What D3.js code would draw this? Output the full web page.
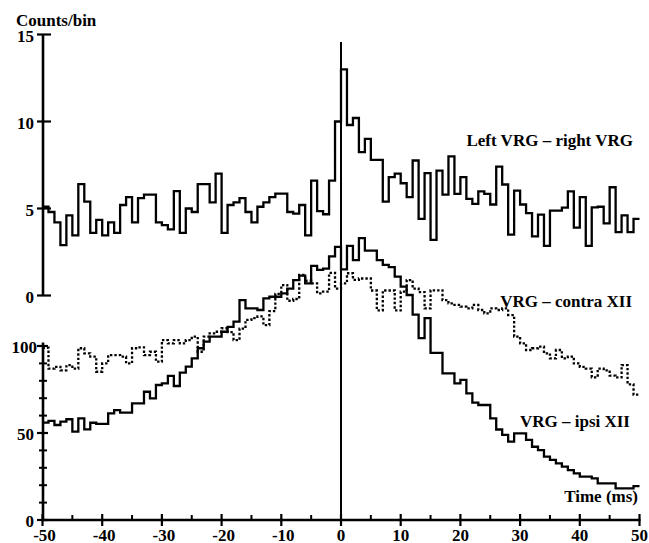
<!DOCTYPE html>
<html><head><meta charset="utf-8">
<script src="https://cdn.jsdelivr.net/npm/d3@7/dist/d3.min.js"></script>
<style>
html,body{margin:0;padding:0;background:#fff;}
text{font-family:"Liberation Serif","Times New Roman",serif;font-weight:bold;fill:#000;}
</style></head>
<body><svg id="c" width="649" height="543"></svg>
<script>
// Bin start times (ms), 1-ms bins from -50 to 49
const binStarts = d3.range(-50, 50);
// Upper panel: Left VRG – right VRG (counts/bin)
const leftRightVRG = [
 5.1, 4.8, 4.2, 2.9, 4.6, 3.45, 6.4, 5.4, 3.6, 4.35,
 3.45, 4.2, 3.6, 5.2, 5.65, 4.2, 5.6, 5.8, 5.8, 4.2,
 4.05, 3.8, 6.0, 3.6, 5.0, 4.8, 6.4, 6.4, 5.35, 7.0,
 3.6, 5.2, 5.35, 5.6, 4.8, 4.2, 5.1, 5.35, 5.65, 5.85,
 5.85, 4.8, 4.7, 5.2, 3.45, 6.6, 4.85, 4.67, 6.6, 10.0,
 13.0, 9.8, 10.2, 8.24, 9.0, 7.8, 7.8, 5.4, 6.8, 7.0,
 6.45, 5.65, 7.76, 4.4, 7.03, 3.2, 7.18, 5.8, 8.0, 5.84,
 6.8, 5.55, 5.27, 5.98, 5.84, 5.23, 7.41, 6.38, 3.5, 6.03,
 5.23, 4.73, 3.4, 4.65, 2.85, 4.88, 4.88, 5.05, 5.98, 3.9,
 5.65, 2.85, 5.07, 5.1, 4.15, 6.22, 3.64, 4.6, 3.64, 4.4
];
// Lower panel: VRG – contra XII (dotted)
const contraXII = [
 99, 87, 88, 86, 89, 87, 98.7, 95.8, 93.9, 85.2,
 90, 94.8, 94.8, 93.9, 90, 98.7, 99.2, 94.8, 96.7, 91,
 103.4, 101.5, 103.4, 101.5, 103.4, 105.4, 96.7, 105.4, 107.3, 108.2,
 110.2, 108, 103.4, 110, 115, 116, 117, 112, 120, 130,
 135, 126, 127, 140.8, 137.5, 136, 130.3, 131.2, 142, 133,
 136, 141.8, 138, 138.8, 138.8, 131.9, 120.5, 131.9, 131.9, 120.5,
 131.2, 137.9, 133, 131, 121.6, 132, 132, 126.4, 124.5, 123.6,
 122.6, 121.6, 123.6, 120.7, 118.8, 121.6, 120.7, 121.6, 117.8, 105.4,
 101.5, 97.7, 98.7, 99.6, 95.8, 92.9, 97.7, 92.9, 93.9, 90,
 88, 87, 82, 87, 86, 83, 82, 89, 78, 72
];
// Lower panel: VRG – ipsi XII (solid)
const ipsiXII = [
 56, 57, 54.6, 56.5, 57.9, 50.8, 58.4, 52.1, 55.9, 55.2,
 55.2, 61.3, 63.2, 61.7, 61.7, 67, 67, 73.7, 69.9, 77.6,
 78.5, 82.8, 77, 84.7, 88.1, 92.9, 98.7, 102.5, 105.4, 105.4,
 108.2, 111, 114, 126.4, 121.6, 121.6, 120.7, 127.4, 128.3, 128.3,
 130.3, 133, 137.9, 140.5, 136, 146, 143.7, 144.5, 151.5, 157,
 144, 157.5, 149.4, 162, 154.8, 154.8, 149.4, 146.6, 145.3, 139.9,
 134.1, 129.3, 118, 104.5, 116, 96, 96, 84.3, 84.3, 78.5,
 80.5, 72.8, 67.4, 66.1, 66.1, 58.4, 52, 48.9, 45, 49.8,
 49.8, 46, 42.1, 40.2, 36.4, 34.5, 32.6, 30.7, 28.7, 26.8,
 24.9, 24.9, 23.9, 21.1, 21.1, 21.1, 18.2, 18.2, 18.2, 19.5
];
const xTicks = d3.range(-50, 51, 10);
const xMinorTicks = d3.range(-45, 50, 10);
const upperTicks = [0, 5, 10, 15];
const lowerMajorTicks = [0, 50, 100];
const lowerMinorTicks = [10, 20, 30, 40, 60, 70, 80, 90];

const svg = d3.select("#c");
const x = d3.scaleLinear().domain([-50, 50]).range([42.5, 639.5]);
const yU = d3.scaleLinear().domain([0, 15]).range([295.5, 34.5]);
const yL = d3.scaleLinear().domain([0, 100]).range([520, 346]);

function stepPts(vals){
  const pts = binStarts.map((t,i)=>[t, vals[i]]);
  pts.push([binStarts[binStarts.length-1]+1, vals[vals.length-1]]);
  return pts;
}
const lineU = d3.line().x(d=>x(d[0])).y(d=>yU(d[1])).curve(d3.curveStepAfter);
const lineL = d3.line().x(d=>x(d[0])).y(d=>yL(d[1])).curve(d3.curveStepAfter);

// series
svg.append("path").attr("d", lineL(stepPts(contraXII)))
  .attr("fill","none").attr("stroke","#000").attr("stroke-width",2.3)
  .attr("stroke-dasharray","2.4,2");
svg.append("path").attr("d", lineL(stepPts(ipsiXII)))
  .attr("fill","none").attr("stroke","#000").attr("stroke-width",2.3);
svg.append("path").attr("d", lineU(stepPts(leftRightVRG)))
  .attr("fill","none").attr("stroke","#000").attr("stroke-width",2.3);

// zero line
svg.append("line").attr("x1",x(0)).attr("x2",x(0)).attr("y1",42).attr("y2",yL(0))
  .attr("stroke","#000").attr("stroke-width",2);

// upper axis
const ax = 43;
svg.append("line").attr("x1",ax).attr("x2",ax).attr("y1",yU(15)).attr("y2",yU(0))
  .attr("stroke","#000").attr("stroke-width",2.6);
upperTicks.forEach(v=>{
  svg.append("line").attr("x1",37).attr("x2",51).attr("y1",yU(v)).attr("y2",yU(v))
    .attr("stroke","#000").attr("stroke-width",2.2);
  svg.append("text").attr("x",34).attr("y",yU(v)+7.5).attr("text-anchor","end")
    .attr("font-size",17).text(v);
});
// lower axis
svg.append("line").attr("x1",ax).attr("x2",ax).attr("y1",yL(102)).attr("y2",yL(0))
  .attr("stroke","#000").attr("stroke-width",2.6);
lowerMajorTicks.forEach(v=>{
  svg.append("line").attr("x1",37).attr("x2",48).attr("y1",yL(v)).attr("y2",yL(v))
    .attr("stroke","#000").attr("stroke-width",2.2);
  svg.append("text").attr("x",v===100?37:34).attr("y",yL(v)+7).attr("text-anchor","end")
    .attr("font-size",17).text(v);
});
lowerMinorTicks.forEach(v=>{
  svg.append("line").attr("x1",39).attr("x2",47).attr("y1",yL(v)).attr("y2",yL(v))
    .attr("stroke","#000").attr("stroke-width",2);
});
// x axis
svg.append("line").attr("x1",x(-50)-1).attr("x2",x(50)+1).attr("y1",520).attr("y2",520)
  .attr("stroke","#000").attr("stroke-width",2.6);
xTicks.forEach(v=>{
  svg.append("line").attr("x1",x(v)).attr("x2",x(v)).attr("y1",514).attr("y2",526)
    .attr("stroke","#000").attr("stroke-width",2.2);
  svg.append("text").attr("x",x(v)+(v<0?2:0)).attr("y",541).attr("text-anchor","middle")
    .attr("font-size",17).text(v);
});
xMinorTicks.forEach(v=>{
  svg.append("line").attr("x1",x(v)).attr("x2",x(v)).attr("y1",515).attr("y2",520)
    .attr("stroke","#000").attr("stroke-width",2);
});

// labels
svg.append("text").attr("x",16).attr("y",26).attr("font-size",17).text("Counts/bin");
svg.append("text").attr("x",633).attr("y",146).attr("text-anchor","end").attr("font-size",17).text("Left VRG – right VRG");
svg.append("text").attr("x",632).attr("y",307).attr("text-anchor","end").attr("font-size",17).text("VRG – contra XII");
svg.append("text").attr("x",630).attr("y",426.5).attr("text-anchor","end").attr("font-size",17).text("VRG – ipsi XII");
svg.append("text").attr("x",638).attr("y",502).attr("text-anchor","end").attr("font-size",17).text("Time (ms)");
</script></body></html>
